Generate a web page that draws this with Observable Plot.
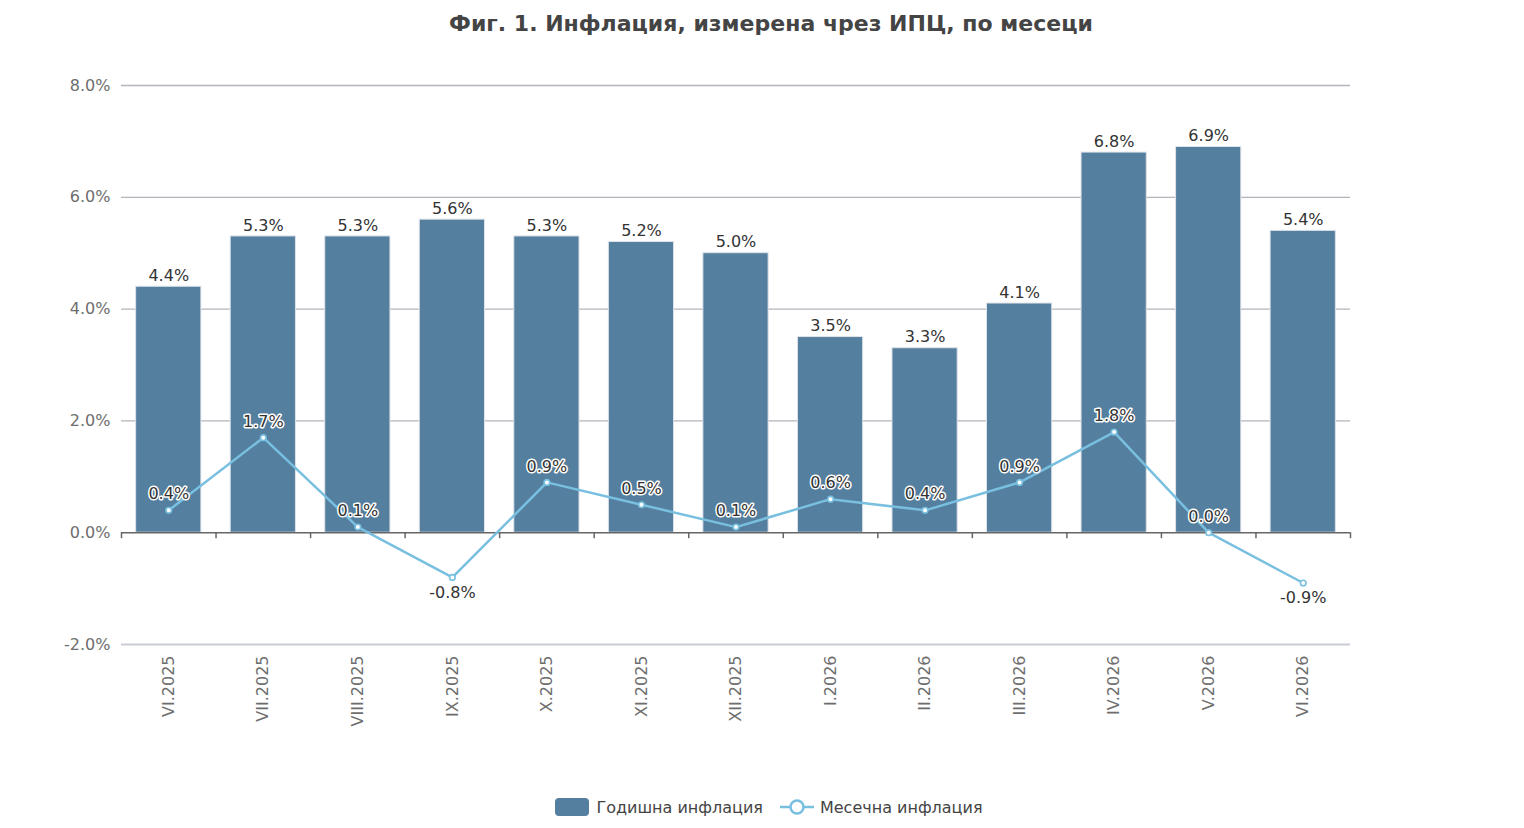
<!DOCTYPE html>
<html>
<head>
<meta charset="utf-8">
<script src="https://cdn.jsdelivr.net/npm/d3@7"></script>
<script src="https://cdn.jsdelivr.net/npm/@observablehq/plot@0.6"></script>
<style>
  html, body { margin: 0; padding: 0; background: #fff; }
  #wrap { position: relative; width: 1524px; height: 828px; font-family: "DejaVu Sans", sans-serif; }
  #title { position: absolute; top: 11px; left: 0; width: 1542px; text-align: center; font-size: 22px; font-weight: bold; color: #444; }
  #chart { position: absolute; top: 50px; left: 0; }
  #legend { position: absolute; top: 797px; left: 0; width: 1538px; display: flex; justify-content: center; align-items: center; font-size: 16px; color: #444; }
  .sw-bar { width: 34px; height: 18px; background: #557f9e; border-radius: 4px; margin-right: 7px; }
  .item { display: flex; align-items: center; margin: 0 8px; }
</style>
</head>
<body>
<div id="wrap">
  <div id="title">Фиг. 1. Инфлация, измерена чрез ИПЦ, по месеци</div>
  <div id="chart"></div>
  <div id="legend">
    <div class="item"><div class="sw-bar"></div><span>Годишна инфлация</span></div>
    <div class="item">
      <svg width="36" height="20" style="margin-right:5px"><line x1="1" y1="10" x2="35" y2="10" stroke="#78bfe0" stroke-width="2.5"/><circle cx="18" cy="10" r="6.5" fill="white" stroke="#78bfe0" stroke-width="2.5"/></svg>
      <span>Месечна инфлация</span>
    </div>
  </div>
</div>
<script>
const months = ["VI.2025","VII.2025","VIII.2025","IX.2025","X.2025","XI.2025","XII.2025","I.2026","II.2026","III.2026","IV.2026","V.2026","VI.2026"];
const annual = [4.4,5.3,5.3,5.6,5.3,5.2,5.0,3.5,3.3,4.1,6.8,6.9,5.4];
const monthly = [0.4,1.7,0.1,-0.8,0.9,0.5,0.1,0.6,0.4,0.9,1.8,0.0,-0.9];
const yTicks = [-2,0,2,4,6,8];
const gridTicks = [2,4,6,8];

const rows = months.map((m, i) => ({month: m, annual: annual[i], monthly: monthly[i]}));
const fmt = v => v.toFixed(1) + "%";

const W = 1524, mL = 121, mR = 174, mT = 35, mB = 146, H = 740;
const step = (W - mL - mR) / months.length;
const barColor = "#557f9e", lineColor = "#78bfe0";

const plot = Plot.plot({
  width: W, height: H,
  marginLeft: mL, marginRight: mR, marginTop: mT, marginBottom: mB,
  style: {fontFamily: "DejaVu Sans, sans-serif", fontSize: "16px", color: "#666", background: "white"},
  x: {domain: months, paddingInner: 0.31, paddingOuter: 0.155, round: false, label: null},
  y: {domain: [-2, 8], label: null},
  marks: [
    Plot.axisY(yTicks, {tickFormat: fmt, tickSize: 0, tickPadding: 11, fontSize: 16, fill: "#6e6e6e"}),
    Plot.axisX({tickRotate: -90, tickSize: 0, tickPadding: 11, fontSize: 16, fill: "#6e6e6e"}),
    Plot.ruleY(gridTicks, {stroke: "#b4b4bc", strokeWidth: 1.3}),
    Plot.ruleY([-2], {stroke: "#c8ccd6", strokeWidth: 2}),
    Plot.barY(rows, {x: "month", y: "annual", fill: barColor, stroke: "#dfe3ea", strokeWidth: 1}),
    Plot.ruleY([0], {stroke: "#666", strokeWidth: 1.5}),
    Plot.ruleX(months, {x: d => d, dx: -step / 2, y1: 0, y2: 0, insetBottom: -6, stroke: "#666", strokeWidth: 1.5}),
    Plot.ruleX(months.slice(-1), {x: d => d, dx: step / 2, y1: 0, y2: 0, insetBottom: -6, stroke: "#666", strokeWidth: 1.5}),
    Plot.text(rows, {x: "month", y: "annual", text: d => fmt(d.annual), dy: -11, fill: "#333", stroke: "white", strokeWidth: 3, fontSize: 16}),
    Plot.line(rows, {x: "month", y: "monthly", stroke: lineColor, strokeWidth: 2.5}),
    Plot.dot(rows, {x: "month", y: "monthly", r: 2.8, fill: "white", stroke: lineColor, strokeWidth: 1.6}),
    Plot.text(rows.filter(d => d.monthly >= 0), {x: "month", y: "monthly", text: d => fmt(d.monthly), dy: -16, fill: "#333", stroke: "white", strokeWidth: 3, fontSize: 16}),
    Plot.text(rows.filter(d => d.monthly < 0), {x: "month", y: "monthly", text: d => fmt(d.monthly), dy: 15, fill: "#333", stroke: "white", strokeWidth: 3, fontSize: 16})
  ]
});
document.getElementById("chart").appendChild(plot);
</script>
</body>
</html>
